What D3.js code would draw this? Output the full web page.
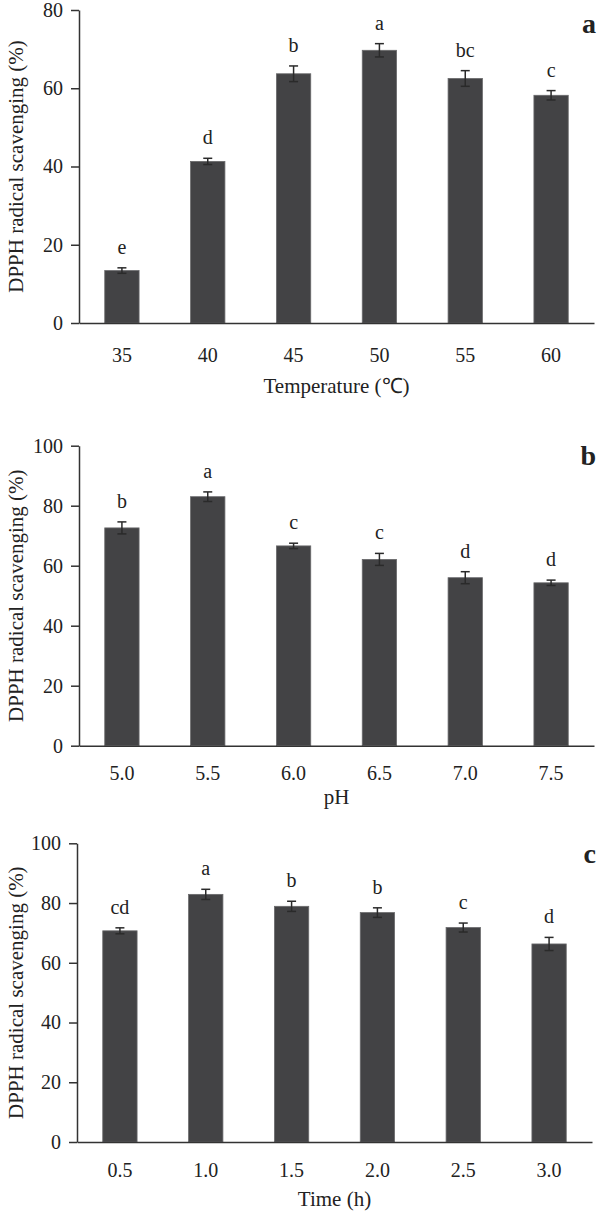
<!DOCTYPE html>
<html><head><meta charset="utf-8">
<script src="https://cdn.jsdelivr.net/npm/d3@7"></script>
<style>
html,body{margin:0;padding:0;background:#fff;}
svg text{font-family:'Liberation Serif','Times New Roman',serif;fill:#222;}
</style></head>
<body>
<svg id="chart" width="600" height="1215"></svg>
<script>
// ---- Data ----
const tempCats = ["35","40","45","50","55","60"];
const tempMeans = [13.4, 41.3, 63.7, 69.7, 62.5, 58.2];
const tempSD = [0.7, 0.8, 2.0, 1.7, 2.0, 1.2];
const tempLetters = ["e","d","b","a","bc","c"];
const tempTicks = [0,20,40,60,80];

const phCats = ["5.0","5.5","6.0","6.5","7.0","7.5"];
const phMeans = [72.6, 83.0, 66.6, 62.1, 56.0, 54.3];
const phSD = [2.0, 1.6, 0.9, 2.0, 2.0, 0.9];
const phLetters = ["b","a","c","c","d","d"];
const phTicks = [0,20,40,60,80,100];

const timeCats = ["0.5","1.0","1.5","2.0","2.5","3.0"];
const timeMeans = [70.7, 82.9, 78.9, 76.8, 71.8, 66.3];
const timeSD = [1.0, 1.7, 1.7, 1.6, 1.5, 2.2];
const timeLetters = ["cd","a","b","b","c","d"];
const timeTicks = [0,20,40,60,80,100];

const yTitle = "DPPH radical scavenging (%)";

const panels = [
  {cats:tempCats, means:tempMeans, sd:tempSD, letters:tempLetters, ticks:tempTicks, ymax:80,
   top:10, bottom:323, left:79, right:594, xlab:"Temperature (℃)", xlabY:393, tickLabY:362, tag:"a", tagY:33},
  {cats:phCats, means:phMeans, sd:phSD, letters:phLetters, ticks:phTicks, ymax:100,
   top:445.7, bottom:745.7, left:79, right:594, xlab:"pH", xlabY:804, tickLabY:780, tag:"b", tagY:465},
  {cats:timeCats, means:timeMeans, sd:timeSD, letters:timeLetters, ticks:timeTicks, ymax:100,
   top:843.3, bottom:1142, left:77, right:592, xlab:"Time (h)", xlabY:1206, tickLabY:1177, tag:"c", tagY:863}
];

const FONT = "'Liberation Serif','Times New Roman',serif";
const svg = d3.select("#chart");
const barColor = "#434345";
const axisColor = "#333";

panels.forEach(p => {
  const g = svg.append("g");
  const x = d3.scaleBand().domain(p.cats).range([p.left, p.right]).paddingInner(0.6).paddingOuter(0.3);
  const y = d3.scaleLinear().domain([0, p.ymax]).range([p.bottom, p.top]);
  const data = p.cats.map((c,i)=>({c, m:p.means[i], s:p.sd[i], l:p.letters[i]}));

  // bars
  g.selectAll("rect.bar").data(data).enter().append("rect")
    .attr("x", d=>x(d.c)).attr("width", x.bandwidth())
    .attr("y", d=>y(d.m)).attr("height", d=>y(0)-y(d.m))
    .attr("fill", barColor).attr("stroke", "#6a6a6c").attr("stroke-width", 0.8);

  // error bars
  const cap = 4.5;
  const eb = g.selectAll("g.eb").data(data).enter().append("g")
    .attr("stroke", "#2a2a2a").attr("stroke-width", 1.5);
  eb.append("line").attr("x1", d=>x(d.c)+x.bandwidth()/2).attr("x2", d=>x(d.c)+x.bandwidth()/2)
    .attr("y1", d=>y(d.m+d.s)).attr("y2", d=>y(d.m-d.s));
  eb.append("line").attr("x1", d=>x(d.c)+x.bandwidth()/2-cap).attr("x2", d=>x(d.c)+x.bandwidth()/2+cap)
    .attr("y1", d=>y(d.m+d.s)).attr("y2", d=>y(d.m+d.s));
  eb.append("line").attr("x1", d=>x(d.c)+x.bandwidth()/2-cap).attr("x2", d=>x(d.c)+x.bandwidth()/2+cap)
    .attr("y1", d=>y(d.m-d.s)).attr("y2", d=>y(d.m-d.s));

  // significance letters
  g.selectAll("text.sig").data(data).enter().append("text")
    .attr("x", d=>x(d.c)+x.bandwidth()/2).attr("y", d=>y(d.m+d.s)-14)
    .attr("text-anchor","middle").attr("font-family", FONT).attr("font-size", 20).text(d=>d.l);

  // y axis
  const ya = g.append("g").attr("transform", `translate(${p.left},0)`)
    .call(d3.axisLeft(y).tickValues(p.ticks).tickSize(8).tickSizeOuter(0).tickPadding(8));
  ya.attr("font-family", FONT).attr("font-size", 20);
  ya.select(".domain").attr("stroke", axisColor).attr("stroke-width", 1.5);
  ya.selectAll(".tick line").attr("stroke", axisColor).attr("stroke-width", 1.5);
  ya.selectAll(".tick text").attr("fill","#222");

  // x axis
  const xa = g.append("g").attr("transform", `translate(0,${p.bottom})`)
    .call(d3.axisBottom(x).tickSize(0).tickSizeOuter(0).tickPadding(0));
  xa.attr("font-family", FONT).attr("font-size", 20);
  xa.select(".domain").attr("stroke", axisColor).attr("stroke-width", 1.5);
  xa.selectAll(".tick text").attr("y", p.tickLabY - p.bottom).attr("dy", null).attr("fill","#222");

  // axis titles
  g.append("text").attr("x", (p.left+p.right)/2).attr("y", p.xlabY)
    .attr("text-anchor","middle").attr("font-family", FONT).attr("font-size", 21).text(p.xlab);
  g.append("text").attr("transform", `translate(23,${(p.top+p.bottom)/2}) rotate(-90)`)
    .attr("text-anchor","middle").attr("font-family", FONT).attr("font-size", 21).text(yTitle);

  // panel tag
  g.append("text").attr("x", 596).attr("y", p.tagY).attr("text-anchor","end")
    .attr("font-family", FONT).attr("font-size", 28).attr("font-weight","bold").text(p.tag);
});
</script>
</body></html>
